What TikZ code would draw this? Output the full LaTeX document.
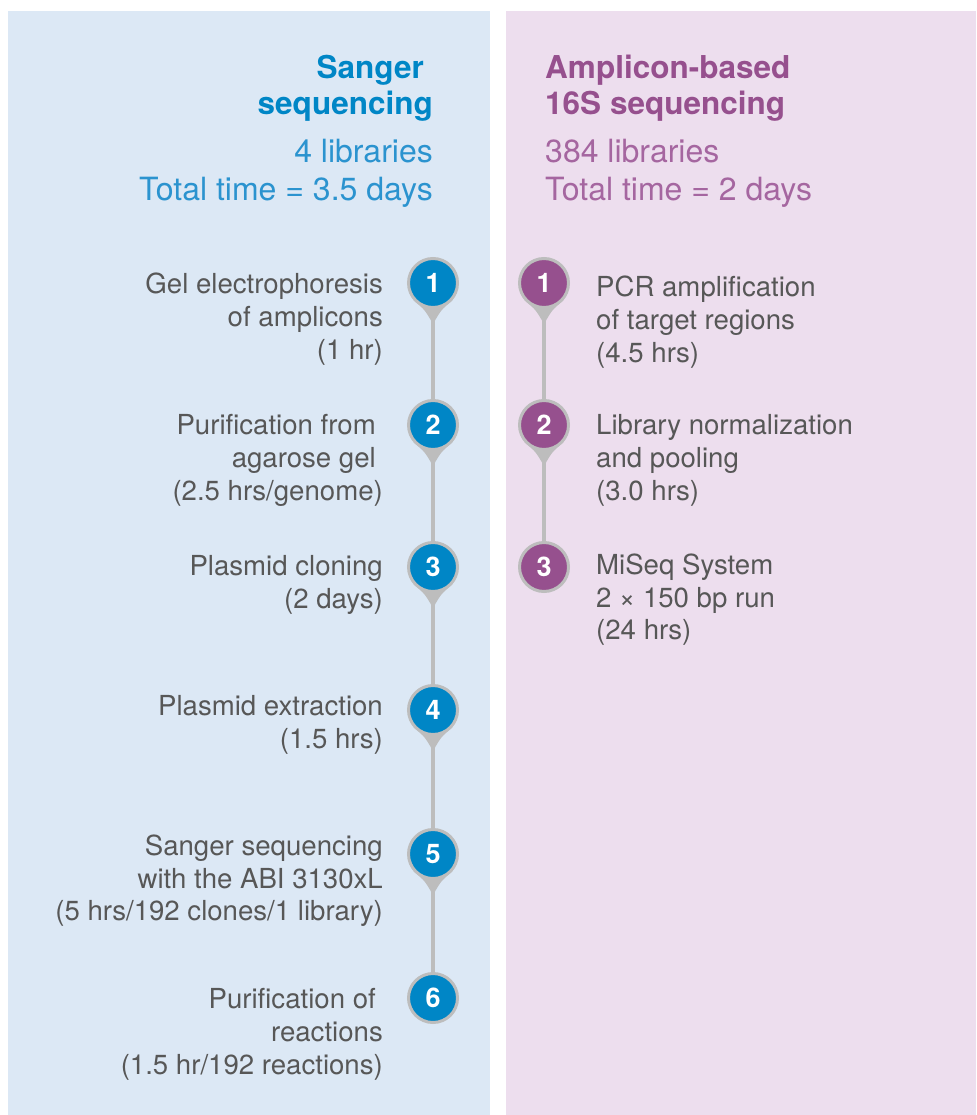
\documentclass[tikz,border=0pt]{standalone}
\usepackage{fontspec}
\setmainfont{TeX Gyre Heros}
\usetikzlibrary{calc}
\definecolor{bluebg}{HTML}{DCE8F5}
\definecolor{pinkbg}{HTML}{EDDEEE}
\definecolor{sblue}{HTML}{0086C6}
\definecolor{spurple}{HTML}{96508E}
\definecolor{sublue}{HTML}{2B93CF}
\definecolor{subpurple}{HTML}{A566A0}
\definecolor{ring}{HTML}{BDBDBD}
\definecolor{txt}{HTML}{575757}
\tikzset{
 ttl/.style={font=\fontsize{31.5}{37}\bfseries\selectfont, inner sep=0},
 sub/.style={font=\fontsize{32}{37}\selectfont, inner sep=0},
 steptxt/.style={font=\fontsize{27.6}{33}\selectfont, text=txt, inner sep=0},
 lt/.style={steptxt, anchor=base east},
 rt/.style={steptxt, anchor=base west},
 conn/.style={draw=ring, line width=4},
 badge/.style={circle, draw=ring, line width=3, minimum size=49, inner sep=0, text=white, font=\fontsize{27}{27}\bfseries\selectfont},
 bbadge/.style={badge, fill=sblue},
 pbadge/.style={badge, fill=spurple},
}
\newcommand\pintail[1]{\fill[ring] ($(#1)+(-19.8,16.9)$) .. controls ($(#1)+(-8,27)$) .. ($(#1)+(0,41)$) .. controls ($(#1)+(8,27)$) .. ($(#1)+(19.8,16.9)$) -- cycle;}
\begin{document}
\begin{tikzpicture}[x=1pt,y=-1pt]
\useasboundingbox (0,0) rectangle (976,1115);
\fill[bluebg] (8,11) rectangle (490,1115);
\fill[pinkbg] (506,11) rectangle (976,1115);

% titles
\node[ttl, text=sblue, anchor=base east] (tl1) at (424,79) {Sanger};
\node[ttl, text=sblue, anchor=base east] (tl2) at (433,115) {sequencing};
\node[sub, text=sublue, anchor=base east] (sl1) at (433,163) {4 libraries};
\node[sub, text=sublue, anchor=base east] (sl2) at (433,201) {Total time = 3.5 days};
\node[ttl, text=spurple, anchor=base west] (tr1) at (545,79) {Amplicon-based};
\node[ttl, text=spurple, anchor=base west] (tr2) at (545,115) {16S sequencing};
\node[sub, text=subpurple, anchor=base west] (sr1) at (545,163) {384 libraries};
\node[sub, text=subpurple, anchor=base west] (sr2) at (545,201) {Total time = 2 days};

% pin positions
\coordinate (L1) at (433,283);
\coordinate (L2) at (433,425);
\coordinate (L3) at (433,567);
\coordinate (L4) at (433,710);
\coordinate (L5) at (433,854);
\coordinate (L6) at (433,998);
\coordinate (R1) at (544,283);
\coordinate (R2) at (544,425);
\coordinate (R3) at (544,567);

% connectors
\draw[conn] (L1) -- (L2) -- (L3) -- (L4) -- (L5) -- (L6);
\draw[conn] (R1) -- (R2) -- (R3);

% tails
\pintail{L1}\pintail{L2}\pintail{L3}\pintail{L4}\pintail{L5}
\pintail{R1}\pintail{R2}

% badges
\node[bbadge] (b1) at (L1) {1};
\node[bbadge] (b2) at (L2) {2};
\node[bbadge] (b3) at (L3) {3};
\node[bbadge] (b4) at (L4) {4};
\node[bbadge] (b5) at (L5) {5};
\node[bbadge] (b6) at (L6) {6};
\node[pbadge] (p1) at (R1) {1};
\node[pbadge] (p2) at (R2) {2};
\node[pbadge] (p3) at (R3) {3};

% left step texts
\node[lt] (l1a) at (383,293) {Gel electrophoresis};
\node[lt] (l1b) at (383,326) {of amplicons};
\node[lt] (l1c) at (383,359) {(1 hr)};
\node[lt] (l2a) at (376,434) {Purification from};
\node[lt] (l2b) at (376,467) {agarose gel};
\node[lt] (l2c) at (383,500) {(2.5 hrs/genome)};
\node[lt] (l3a) at (383,575) {Plasmid cloning};
\node[lt] (l3b) at (383,608) {(2 days)};
\node[lt] (l4a) at (383,715) {Plasmid extraction};
\node[lt] (l4b) at (383,748) {(1.5 hrs)};
\node[lt] (l5a) at (383,855) {Sanger sequencing};
\node[lt] (l5b) at (383,888) {with the ABI 3130xL};
\node[lt] (l5c) at (383,920) {(5 hrs/192 clones/1 library)};
\node[lt] (l6a) at (376,1008) {Purification of};
\node[lt] (l6b) at (383,1041) {reactions};
\node[lt] (l6c) at (383,1074) {(1.5 hr/192 reactions)};

% right step texts
\node[rt] (r1a) at (596,296) {PCR amplification};
\node[rt] (r1b) at (596,329) {of target regions};
\node[rt] (r1c) at (596,362) {(4.5 hrs)};
\node[rt] (r2a) at (596,434) {Library normalization};
\node[rt] (r2b) at (596,467) {and pooling};
\node[rt] (r2c) at (596,500) {(3.0 hrs)};
\node[rt] (r3a) at (596,574) {MiSeq System};
\node[rt] (r3b) at (596,607) {2 × 150 bp run};
\node[rt] (r3c) at (596,639) {(24 hrs)};
\end{tikzpicture}
\end{document}
